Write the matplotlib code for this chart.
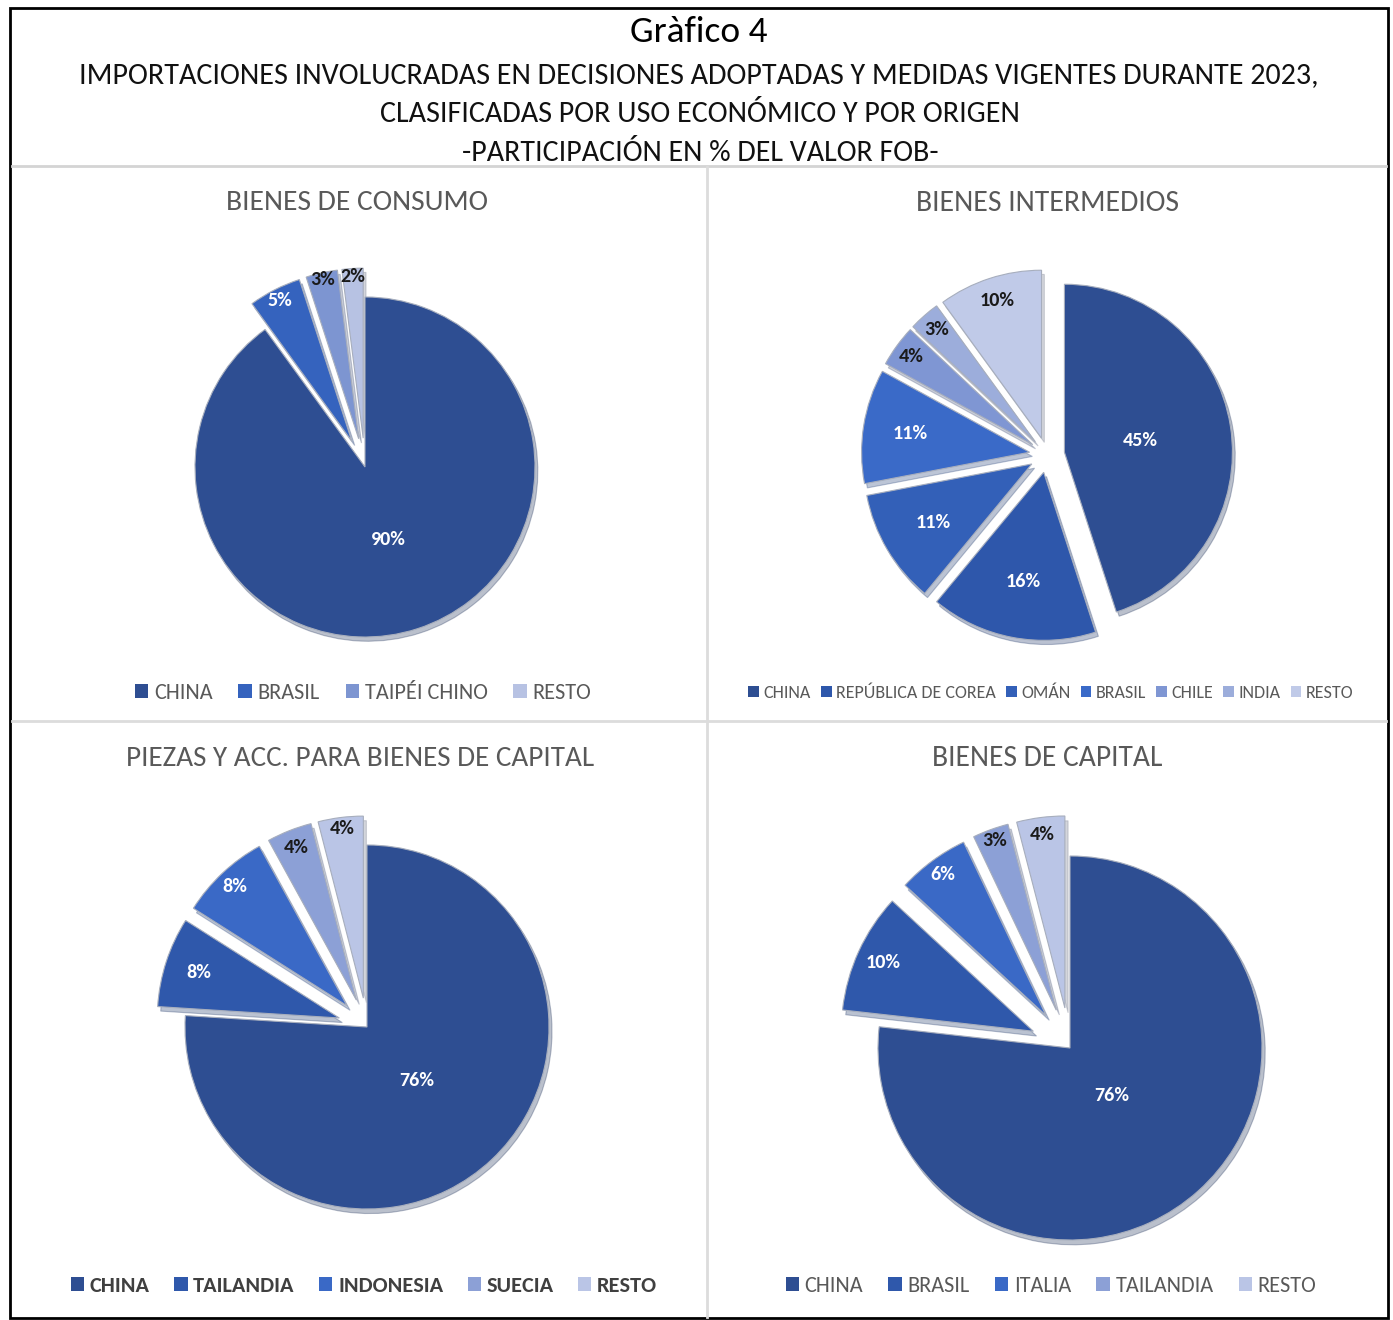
import matplotlib
matplotlib.use("Agg")
import matplotlib.pyplot as plt
from matplotlib import font_manager
from matplotlib.lines import Line2D
from matplotlib.patches import Rectangle
import matplotlib.colors as mcolors
import numpy as np

# ---------------- data ----------------
title_main = "Gràfico 4"
title_lines = ["IMPORTACIONES INVOLUCRADAS EN DECISIONES ADOPTADAS Y MEDIDAS VIGENTES DURANTE 2023,",
               "CLASIFICADAS POR USO ECONÓMICO Y POR ORIGEN",
               "-PARTICIPACIÓN EN % DEL VALOR FOB-"]

consumo_title = "BIENES DE CONSUMO"
consumo_labels = ["CHINA", "BRASIL", "TAIPÉI CHINO", "RESTO"]
consumo_values = [90, 5, 3, 2]

interm_title = "BIENES INTERMEDIOS"
interm_labels = ["CHINA", "REPÚBLICA DE COREA", "OMÁN", "BRASIL", "CHILE", "INDIA", "RESTO"]
interm_values = [45, 16, 11, 11, 4, 3, 10]

piezas_title = "PIEZAS Y ACC. PARA BIENES DE CAPITAL"
piezas_labels = ["CHINA", "TAILANDIA", "INDONESIA", "SUECIA", "RESTO"]
piezas_values = [76, 8, 8, 4, 4]

capital_title = "BIENES DE CAPITAL"
capital_labels = ["CHINA", "BRASIL", "ITALIA", "TAILANDIA", "RESTO"]
capital_values = [76, 10, 6, 3, 4]

# ---------------- style ----------------
W, H = 1393, 1320
avail = {f.name for f in font_manager.fontManager.ttflist}
FONT = next((f for f in ["Carlito", "Liberation Sans Narrow", "Open Sans", "Lato", "DejaVu Sans"] if f in avail), "DejaVu Sans")
plt.rcParams['font.family'] = [FONT, 'DejaVu Sans']

fig = plt.figure(figsize=(W / 100, H / 100), dpi=100)
fig.patch.set_facecolor("white")
renderer = fig.canvas.get_renderer()


def fx(x):
    return x / W


def fy(y):
    return 1 - y / H


def fit_text(x, y, s, width, size=20, **kw):
    t = fig.text(fx(x), fy(y), s, ha="center", va="center", fontsize=size, **kw)
    for _ in range(3):
        w = t.get_window_extent(renderer).width
        size = size * width / w
        t.set_fontsize(size)
    return t


# frame
fig.add_artist(Rectangle((fx(10), fy(1318)), fx(1388) - fx(10), fy(8) - fy(1318),
                         transform=fig.transFigure, fill=False, ec="black", lw=2))
fig.add_artist(Line2D([fx(12), fx(1386)], [fy(166), fy(166)], transform=fig.transFigure, color="#d4d4d4", lw=2))
fig.add_artist(Line2D([fx(707), fx(707)], [fy(167), fy(1317)], transform=fig.transFigure, color="#dcdcdc", lw=2))
fig.add_artist(Line2D([fx(12), fx(1386)], [fy(721), fy(721)], transform=fig.transFigure, color="#dcdcdc", lw=2))

# header
fit_text(699, 32, title_main, 138, color="black")
fit_text(699, 75, title_lines[0], 1238, color="#111111")
fit_text(700, 114, title_lines[1], 640, color="#111111")
fit_text(700, 153, title_lines[2], 476, color="#111111")


def make_legend(handles, labels, xy, size, spacing, bold, color):
    leg = fig.legend(handles, labels, loc="center", bbox_to_anchor=(fx(xy[0]), fy(xy[1])),
                     ncol=len(labels), frameon=False, handlelength=0.6, handleheight=0.6,
                     handletextpad=0.25, columnspacing=spacing,
                     prop=dict(family=[FONT, 'DejaVu Sans'], size=size,
                               weight="bold" if bold else "normal"))
    for h in leg.legend_handles:
        h.set_edgecolor("none")
        h.set_linewidth(0)
    for t in leg.get_texts():
        t.set_color(color)
    return leg


def draw_pie(values, labels, colors, title, cx, cy, r, explode, label_dist,
             title_xy, title_w, leg_xy, leg_size, leg_spacing, leg_bold=False, leg_color="#595959"):
    S = 1.6 * r
    ax = fig.add_axes([fx(cx - S), fy(cy + S), 2 * S / W, 2 * S / H])
    wedges, _ = ax.pie(values, colors=colors, startangle=90, counterclock=False,
                       explode=explode, radius=1.0,
                       wedgeprops=dict(edgecolor="#a7aebd", linewidth=0.8),
                       shadow=dict(ox=0.012, oy=-0.018, shade=0.4, alpha=0.3))
    ax.set_xlim(-1.6, 1.6)
    ax.set_ylim(-1.6, 1.6)
    ax.axis("off")
    for w, v, d, c in zip(wedges, values, label_dist, colors):
        ang = np.deg2rad((w.theta1 + w.theta2) / 2)
        x0, y0 = w.center
        rr, gg, bb = mcolors.to_rgb(c)
        lum = 0.299 * rr + 0.587 * gg + 0.114 * bb
        tc = "white" if lum < 0.5 else "#1a1a1a"
        ax.text(x0 + d * np.cos(ang), y0 + d * np.sin(ang), f"{v}%", ha="center", va="center",
                fontsize=14.5, fontweight="bold", color=tc)
    fit_text(title_xy[0], title_xy[1], title, title_w, color="#595959")
    make_legend(wedges, labels, leg_xy, leg_size, leg_spacing, leg_bold, leg_color)
    return ax


c4 = ["#2E4E92", "#3563BE", "#7D95D1", "#B7C2E3"]
c7 = ["#2E4E92", "#2E57AB", "#3360B8", "#3A6AC8", "#7F96D3", "#9CADDB", "#C0CAE8"]
c5 = ["#2E4E92", "#2F58AB", "#3A69C6", "#8CA0D6", "#BAC5E6"]

draw_pie(consumo_values, consumo_labels, c4, consumo_title, 365, 467, 170,
         [0, 0.17, 0.17, 0.17], [0.45, 0.93, 0.96, 0.95],
         (357, 202), 262, (363, 693), 16, 1.17)
draw_pie(interm_values, interm_labels, c7, interm_title, 1047, 455, 168,
         [0.105] * 7, [0.46, 0.66, 0.68, 0.72, 0.89, 0.89, 0.86],
         (1047, 203), 262, (1051, 693), 13, 0.55)
draw_pie(piezas_values, piezas_labels, c5, piezas_title, 367, 1027, 182,
         [0, 0.16, 0.16, 0.16, 0.16], [0.40, 0.81, 0.90, 0.90, 0.94],
         (360, 758), 468, (364, 1286), 16, 1.1, leg_bold=True, leg_color="#404040")
draw_pie(capital_values, capital_labels, c5, capital_title, 1070, 1048, 192,
         [0, 0.21, 0.21, 0.21, 0.21], [0.33, 0.86, 0.91, 0.94, 0.91],
         (1047, 758), 230, (1051, 1286), 16, 1.14)

fig.savefig("out.png", dpi=100, facecolor="white")
